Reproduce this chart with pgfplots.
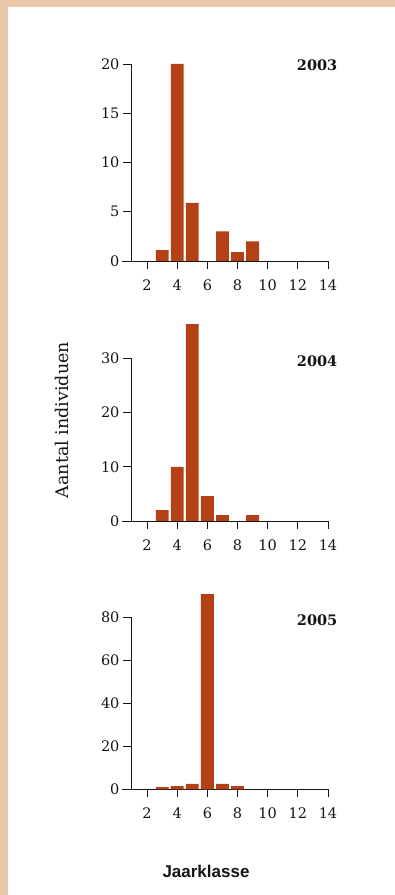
\documentclass[border=0pt]{standalone}
\usepackage{pgfplots}
\pgfplotsset{compat=1.18}
\usepackage{fontspec}
\setmainfont{DejaVu Serif}
\newfontfamily\labsans{Liberation Sans}
\definecolor{beige}{HTML}{EBC8AA}
\definecolor{barc}{HTML}{B34115}
\definecolor{ink}{HTML}{151515}
\tikzset{yr/.style={anchor=east, font=\fontsize{14.5}{16}\selectfont\bfseries, text=ink}}
\pgfplotsset{
  myax/.style={
    scale only axis, width=197pt,
    xmin=0.933, xmax=14, ymin=0,
    axis lines*=left,
    axis line style={ink, line width=0.9pt},
    x axis line style={shorten <=-9pt},
    every tick/.style={ink, line width=0.9pt},
    tick align=outside,
    xtick={2,4,...,14},
    major tick length=8pt,
    tick label style={font=\fontsize{14.5}{17}\selectfont, text=ink},
    xticklabel style={yshift=-7pt},
    /pgf/number format/assume math mode=true,
    ybar, bar width=0.85, bar shift=0pt,
    clip=false,
    anchor=south west,
  },
  mybar/.style={fill=barc, draw=none},
}
\begin{document}
\begin{tikzpicture}
\fill[beige] (0pt,0pt) rectangle (395pt,895pt);
\fill[white] (8pt,0pt) rectangle (395pt,888pt);
% 2003
\begin{axis}[myax, at={(131pt,634pt)}, height=197pt, ymax=20, ytick={0,5,10,15,20}]
\addplot[mybar] coordinates {(3,1.1) (4,20) (5,5.9) (7,3) (8,0.9) (9,2)};
\node[yr] at (axis cs:14.85,19.9) {2003};
\end{axis}
% 2004
\begin{axis}[myax, at={(131pt,374pt)}, height=162.7pt, ymax=30, ytick={0,10,20,30}]
\addplot[mybar] coordinates {(3,2) (4,10) (5,36.3) (6,4.6) (7,1.1) (9,1.1)};
\node[yr] at (axis cs:14.85,29.4) {2004};
\end{axis}
% 2005
\begin{axis}[myax, at={(131pt,105.7pt)}, height=172pt, ymax=80, ytick={0,20,40,60,80}]
\addplot[mybar] coordinates {(3,1) (4,1.5) (5,2.5) (6,90.8) (7,2.5) (8,1.5)};
\node[yr] at (axis cs:14.85,78.7) {2005};
\end{axis}
\node[rotate=90, font=\fontsize{17.5}{20}\selectfont, text=ink] at (62pt,475pt) {Aantal individuen};
\node[font=\labsans\fontsize{17}{20}\selectfont\bfseries, text=ink] at (206pt,24pt) {Jaarklasse};
\end{tikzpicture}
\end{document}
